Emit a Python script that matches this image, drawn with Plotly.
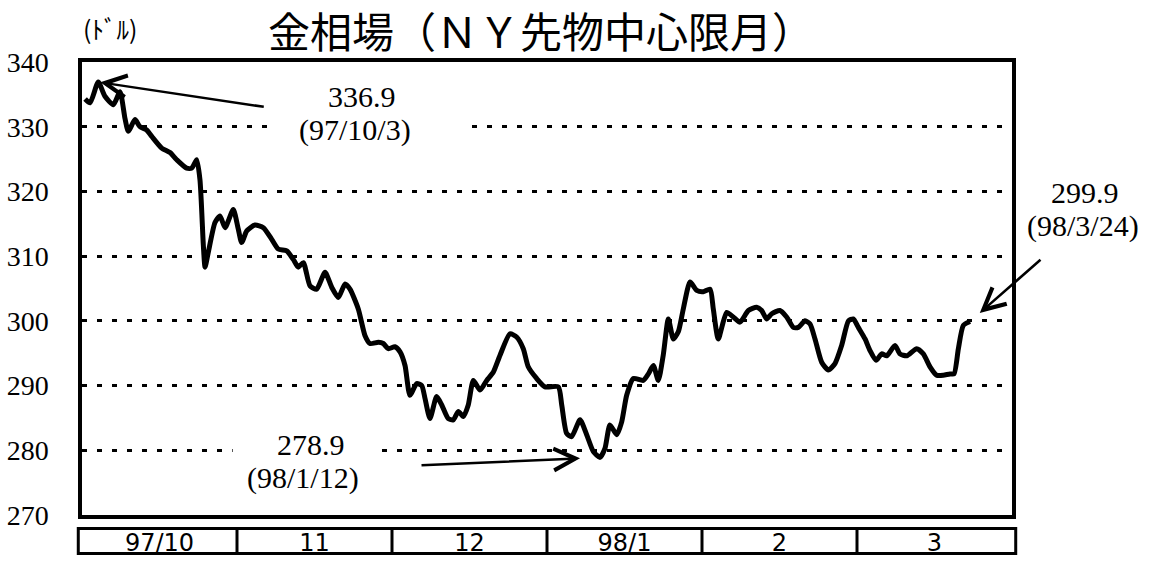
import plotly.graph_objects as go

# position in months since 97/10/1 (0 = start of Oct, 6 = end of Mar), and price in $/oz
months = ["97/10", "11", "12", "98/1", "2", "3"]
month_pos = [0.5, 1.5, 2.5, 3.5, 4.5, 5.5]

t = [0.02, 0.052, 0.105, 0.148, 0.202, 0.245, 0.277, 0.299, 0.342, 0.374,
     0.417, 0.450, 0.514, 0.568, 0.611, 0.675, 0.708, 0.740, 0.761, 0.783,
     0.794, 0.815, 0.858, 0.890, 0.923, 0.976, 1.008, 1.030, 1.063, 1.116,
     1.170, 1.224, 1.266, 1.321, 1.363, 1.395, 1.428, 1.471, 1.514, 1.568,
     1.611, 1.654, 1.697, 1.729, 1.783, 1.826, 1.858, 1.912, 1.944, 1.976,
     2.019, 2.052, 2.084, 2.116, 2.159, 2.192, 2.213, 2.245, 2.288, 2.321,
     2.363, 2.395, 2.428, 2.460, 2.492, 2.525, 2.568, 2.611, 2.654, 2.697,
     2.761, 2.804, 2.847, 2.879, 2.933, 2.987, 3.073, 3.095, 3.127, 3.159,
     3.213, 3.256, 3.299, 3.342, 3.374, 3.406, 3.450, 3.482, 3.514, 3.557,
     3.621, 3.654, 3.686, 3.718, 3.750, 3.783, 3.815, 3.847, 3.879, 3.923,
     3.966, 4.008, 4.052, 4.073, 4.105, 4.159, 4.202, 4.245, 4.299, 4.353,
     4.385, 4.417, 4.450, 4.503, 4.546, 4.589, 4.621, 4.665, 4.697, 4.729,
     4.772, 4.815, 4.858, 4.901, 4.945, 4.976, 5.008, 5.052, 5.084, 5.123,
     5.159, 5.192, 5.245, 5.277, 5.321, 5.385, 5.428, 5.471, 5.514, 5.557,
     5.600, 5.626, 5.654, 5.686, 5.729]

price = [334.3, 333.7, 336.9, 334.7, 333.4, 335.4, 331.3, 329.3, 331.1, 330.0,
         329.5, 328.5, 326.7, 326.0, 324.9, 323.6, 323.6, 324.9, 321.8, 311.6,
         308.3, 310.6, 315.2, 316.2, 314.4, 317.2, 314.2, 312.1, 313.9, 314.8,
         314.4, 312.6, 311.1, 310.8, 309.5, 308.3, 309.0, 305.4, 304.9, 307.5,
         305.2, 303.6, 305.7, 304.9, 301.8, 297.7, 296.5, 296.7, 296.5, 295.7,
         296.0, 295.2, 293.1, 288.5, 290.3, 290.0, 288.0, 284.9, 288.3, 287.0,
         284.9, 284.7, 286.0, 285.2, 287.0, 290.8, 289.3, 290.8, 292.1, 294.7,
         298.0, 297.5, 295.7, 292.9, 291.1, 289.8, 289.8, 287.0, 282.6, 282.1,
         284.7, 282.4, 279.8, 278.9, 280.3, 283.9, 282.4, 284.4, 288.5, 291.1,
         290.8, 291.8, 293.1, 290.8, 294.7, 300.3, 297.2, 298.3, 301.8, 306.0,
         304.7, 304.5, 304.9, 301.8, 297.2, 301.3, 300.6, 299.8, 301.6, 302.1,
         301.6, 300.3, 301.1, 301.6, 300.6, 299.0, 299.0, 300.0, 299.5, 297.2,
         293.6, 292.4, 293.4, 296.2, 300.0, 300.3, 299.0, 297.2, 295.4, 293.9,
         294.9, 294.6, 296.2, 294.9, 294.6, 295.7, 294.9, 292.9, 291.6, 291.6,
         291.8, 291.8, 295.7, 299.3, 299.9]

y_ticks = [270, 280, 290, 300, 310, 320, 330, 340]

serif = "Liberation Serif"
jp = "Noto Sans CJK JP"

fig = go.Figure()
fig.add_trace(go.Scatter(x=t, y=price, mode="lines",
                         line=dict(color="black", width=5, shape="spline", smoothing=0.6),
                         hoverinfo="skip", showlegend=False))

# white patches that break the dotted grid around the labels
fig.add_shape(type="rect", xref="paper", yref="paper", x0=0.206, x1=0.412, y0=0.80, y1=0.88,
              fillcolor="white", line_width=0, layer="above")
fig.add_shape(type="rect", xref="paper", yref="paper", x0=0.162, x1=0.315, y0=0.11, y1=0.20,
              fillcolor="white", line_width=0, layer="above")

# month boxes below the frame
box_top, box_bot = -0.030, -0.085
fig.add_shape(type="rect", xref="paper", yref="paper", x0=-0.004, x1=1.004, y0=box_bot, y1=box_top,
              line=dict(color="black", width=3))
for k in range(1, 6):
    fig.add_shape(type="line", xref="paper", yref="paper", x0=k / 6, x1=k / 6, y0=box_bot, y1=box_top,
                  line=dict(color="black", width=3))

ann_font = dict(family=serif, size=30, color="black")
labels = [("336.9", 0.301, 0.923), ("(97/10/3)", 0.294, 0.850),
          ("278.9", 0.246, 0.155), ("(98/1/12)", 0.238, 0.082),
          ("299.9", 1.078, 0.711), ("(98/3/24)", 1.076, 0.638)]
for txt, xp, yp in labels:
    fig.add_annotation(text=txt, xref="paper", yref="paper", x=xp, y=yp,
                       xanchor="center", yanchor="middle", showarrow=False, font=ann_font)

fig.add_annotation(text="(ﾄﾞﾙ)", xref="paper", yref="paper", x=0.03, y=1.075,
                   xanchor="center", yanchor="middle", showarrow=False,
                   font=dict(family=jp, size=25, color="black"))

# arrows to peak, bottom and last value
arrow = dict(showarrow=True, arrowhead=5, arrowsize=1.7, arrowwidth=2.5, arrowcolor="black", text="")
i_max = price.index(max(price))
i_min = price.index(min(price))
fig.add_annotation(x=t[i_max], y=price[i_max], ax=167, ay=25, standoff=2, **arrow)
fig.add_annotation(x=t[i_min], y=price[i_min], ax=-180, ay=8, standoff=20, **arrow)
fig.add_annotation(x=t[-1], y=price[-1], ax=72, ay=-63, standoff=13, **arrow)

fig.update_layout(
    width=1158, height=565,
    margin=dict(l=82, r=146, t=62, b=50, autoexpand=False),
    paper_bgcolor="white", plot_bgcolor="white",
    font=dict(family=serif, color="black"),
    title=dict(text="金相場（ＮＹ先物中心限月）", x=541 / 1158, xanchor="center",
               y=1 - 33 / 565, yanchor="middle", yref="container",
               font=dict(family=jp, size=42, color="black")),
    xaxis=dict(range=[0, 6], tickvals=month_pos, ticktext=months, ticks="",
               showgrid=False, zeroline=False, showline=True, mirror=True, automargin=False,
               linecolor="black", linewidth=3.5, ticklabelstandoff=3,
               tickfont=dict(family="DejaVu Sans", size=24, color="black"), fixedrange=True),
    yaxis=dict(range=[270, 340], tickvals=y_ticks, ticks="", showgrid=True,
               gridcolor="black", gridwidth=3, griddash="5px,10px", automargin=False,
               zeroline=False, showline=True, mirror=True, linecolor="black", linewidth=3.5,
               ticklabelstandoff=24,
               tickfont=dict(family=serif, size=28, color="black"), fixedrange=True),
)

# drop the default 8px page margin so the figure fills the window exactly
fig.write_html("out.html", config={"displaylogo": False, "displayModeBar": False},
               post_script="document.body.style.margin='0';")
